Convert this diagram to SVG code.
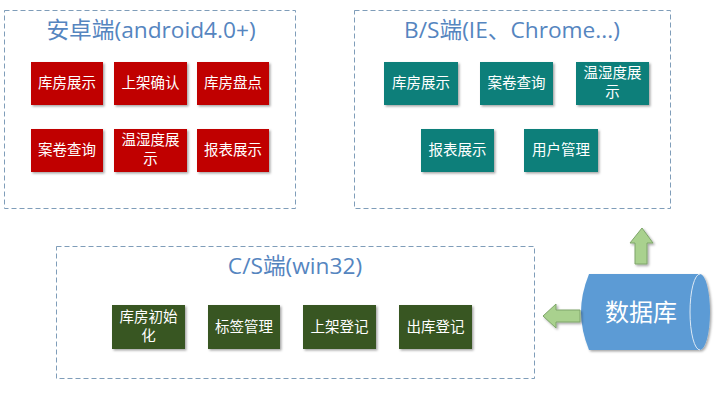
<svg xmlns="http://www.w3.org/2000/svg" width="725" height="409" viewBox="0 0 725 409">
<defs>
<filter id="sh" x="-10%" y="-10%" width="130%" height="130%">
<feDropShadow dx="1.5" dy="1.5" stdDeviation="1" flood-color="#000" flood-opacity="0.35"/>
</filter>
<style>
.grp{fill:#fff;stroke:#7f9db9;stroke-width:1;stroke-dasharray:5,3;}
.ttl{font-family:"Open Sans","Noto Sans CJK SC",sans-serif;font-size:22.7px;fill:#5585bf;text-anchor:middle;}
.red{fill:#c00000;filter:url(#sh);}
.teal{fill:#0f7f7a;filter:url(#sh);}
.grn{fill:#385723;filter:url(#sh);}
.lbl{font-family:"Noto Sans CJK SC",sans-serif;font-size:14.5px;fill:#fff;text-anchor:middle;}
.arr{fill:#a9d18e;stroke:#7ea56a;stroke-width:1;filter:url(#sh);}
</style>
</defs>

<g id="android">
<rect class="grp" x="4.5" y="10.5" width="291" height="198"/>
<text class="ttl" x="151" y="38">安卓端(android4.0+)</text>
</g>
<g id="a1"><rect class="red" x="31" y="62" width="72" height="43"/><text class="lbl" x="67" y="88">库房展示</text></g>
<g id="a2"><rect class="red" x="114" y="62" width="73" height="43"/><text class="lbl" x="150.5" y="88">上架确认</text></g>
<g id="a3"><rect class="red" x="197" y="62" width="72" height="43"/><text class="lbl" x="233" y="88">库房盘点</text></g>
<g id="a4"><rect class="red" x="31" y="129" width="72" height="43"/><text class="lbl" x="67" y="155">案卷查询</text></g>
<g id="a5"><rect class="red" x="114" y="129" width="73" height="43"/><text class="lbl" x="150.5" y="145">温湿度展</text><text class="lbl" x="150.5" y="164">示</text></g>
<g id="a6"><rect class="red" x="197" y="129" width="72" height="43"/><text class="lbl" x="233" y="155">报表展示</text></g>

<g id="bs">
<rect class="grp" x="354.5" y="10.5" width="316" height="198"/>
<text class="ttl" x="512" y="38">B/S端(IE、Chrome...)</text>
</g>
<g id="b1"><rect class="teal" x="384" y="62" width="74" height="43"/><text class="lbl" x="421" y="88">库房展示</text></g>
<g id="b2"><rect class="teal" x="480" y="62" width="73" height="43"/><text class="lbl" x="516.5" y="88">案卷查询</text></g>
<g id="b3"><rect class="teal" x="576" y="62" width="73" height="43"/><text class="lbl" x="612.5" y="78">温湿度展</text><text class="lbl" x="612.5" y="97">示</text></g>
<g id="b4"><rect class="teal" x="421" y="129" width="73" height="43"/><text class="lbl" x="457.5" y="155">报表展示</text></g>
<g id="b5"><rect class="teal" x="524" y="129" width="74" height="43"/><text class="lbl" x="561" y="155">用户管理</text></g>

<g id="cs">
<rect class="grp" x="56.5" y="246.5" width="478" height="132"/>
<text class="ttl" x="295" y="274">C/S端(win32)</text>
</g>
<g id="c1"><rect class="grn" x="112" y="305" width="73" height="44"/><text class="lbl" x="148.5" y="322">库房初始</text><text class="lbl" x="148.5" y="341">化</text></g>
<g id="c2"><rect class="grn" x="208" y="305" width="72" height="44"/><text class="lbl" x="244" y="332">标签管理</text></g>
<g id="c3"><rect class="grn" x="303" y="305" width="73" height="44"/><text class="lbl" x="339.5" y="332">上架登记</text></g>
<g id="c4"><rect class="grn" x="399" y="305" width="73" height="44"/><text class="lbl" x="435.5" y="332">出库登记</text></g>

<g id="db">
<path d="M589,274 L700,274 A10,38 0 0 1 700,350 L589,350 Q581,330 581,312 Q581,294 589,274 Z" fill="#5b9bd5" filter="url(#sh)"/>
<path d="M700,274 A10,38 0 0 0 700,350" fill="none" stroke="#dce9f5" stroke-width="1"/>
<text x="641" y="321" font-family="Noto Sans CJK SC,sans-serif" font-size="24" fill="#fff" text-anchor="middle">数据库</text>
</g>

<g id="connectors">
<path class="arr" d="M543,316 L556,304 L556,310 L580,310 L580,322 L556,322 L556,328 Z"/>
<path class="arr" d="M642,228 L653,243 L647,243 L647,264 L635,264 L635,243 L630,243 Z"/>
</g>
</svg>
